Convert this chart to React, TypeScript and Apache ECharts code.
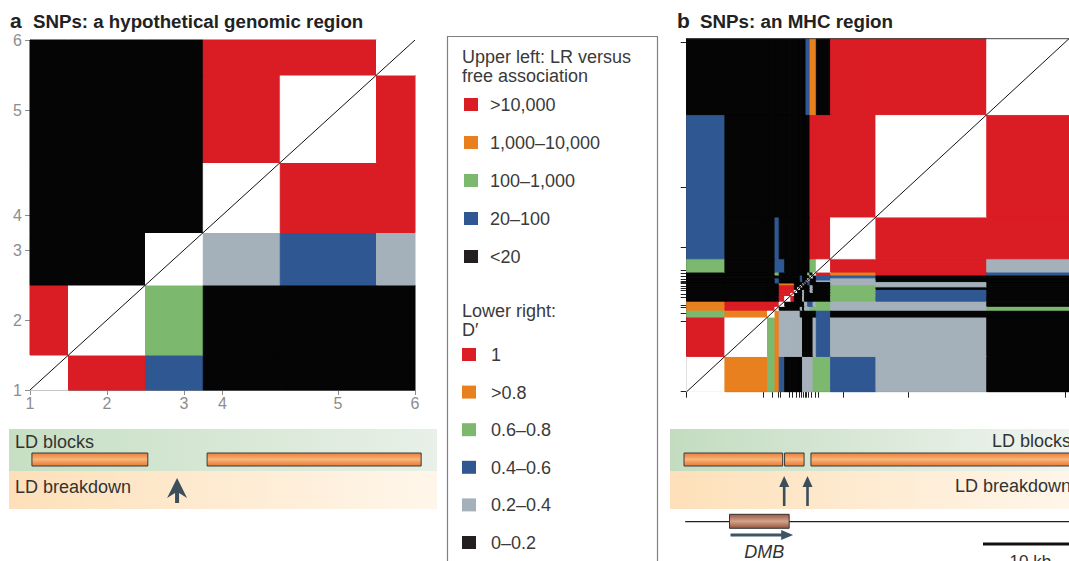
import React, { useEffect, useRef } from 'react';
import * as echarts from 'echarts';

const FONT = '"Liberation Sans", Arial, Helvetica, sans-serif';

const PALETTE: Record<string, string> = {
  R: '#da1c24',
  O: '#e8801f',
  G: '#7cb86e',
  B: '#2f5893',
  S: '#a5b1ba',
  K: '#050505',
  W: '#ffffff',
};

// ---------- Panel a: hypothetical region ----------
const snpLabelsA = ['1', '2', '3', '4', '5', '6'];
const snpPosA = [0, 20, 40, 50, 80, 100];
// rows from SNP 1 (bottom) to SNP 6 (top); columns SNP 1..6
const matrixA = ['WRBKKK', 'RWGKKK', 'KKWSBS', 'KKKWRR', 'KKKRWR', 'KKKRRW'];
const ldBlocksA = [
  [0.5, 30.6],
  [46, 101.6],
];
const breakdownA = [38.2];

// ---------- Panel b: MHC region ----------
const snpPosB = [0, 20, 22.3, 23.9, 24.5, 26.8, 27.7, 28.6, 29.4, 30.0, 30.6, 31.0, 31.4, 31.9, 32.6, 33.5, 34.3, 41, 58, 99];
// rows from first SNP (bottom) to last (top)
const matrixB = [
  'WOGOBKKKKKSSSSSGGBSK',
  'RWGOSSSSSSKKKKKSBSSK',
  'GOWOSSSSSKKKKKKKBKKK',
  'ORRWKKKKKSKSSSGGGSSG',
  'ORRRWKKKKKKSSBBSGSSK',
  'KKKKRWRKKKSKKKKKKGBK',
  'KKKKRRWKKKSKKKKKKGBK',
  'KKKKRRRWKKSKKKSKKGBK',
  'KKKKRRRKWKKKKKSKKGKK',
  'KKKKRRRKKWKKKKSKKGSK',
  'KKKKOOOKKKWKKBKKKSSK',
  'KKKBKKKKKKKWKBKKKSSK',
  'KKKBKKKKKBKKWBKKSSKK',
  'KKKBKKKKKBKKKWKKBSKK',
  'KKKKKKKKKBKKKKWKBBKK',
  'KKKGKKKKKKKKKGKWRORB',
  'GKKBBKKKKKKKKKGGWRRS',
  'BKKBKKKKKKKKKKRRRWRR',
  'BKKKKKKKKKKKKKRRRRWR',
  'KKKKKKKKKKKKBBOOKRRW',
];
const ldBlocksB = [
  [-0.7, 25.1],
  [25.6, 30.7],
  [32.5, 110],
];
const breakdownB = [25.5, 31.6];
const regionLineB = [[-0.4, 110]];
const geneNames = ['DMB'];
const geneStarts = [11.2];
const geneEnds = [26.8];
const scaleBarB = [[77.5, 102.3]];
const scaleBarLabel = '10 kb';

// ---------- Legend ----------
const lrLegendTitle = ['Upper left: LR versus', 'free association'];
const lrLegendLabels = ['>10,000', '1,000–10,000', '100–1,000', '20–100', '<20'];
const lrLegendColors = ['#db1e26', '#e8801f', '#7cb86e', '#2f5893', '#231f20'];
const dLegendTitle = ['Lower right:', 'D′'];
const dLegendLabels = ['1', '>0.8', '0.6–0.8', '0.4–0.6', '0.2–0.4', '0–0.2'];
const dLegendColors = ['#db1e26', '#e8801f', '#7cb86e', '#2f5893', '#a5b1ba', '#231f20'];

function cellData(pos: number[], matrix: string[], min: number, max: number) {
  const b = [min];
  for (let i = 0; i < pos.length - 1; i++) b.push((pos[i] + pos[i + 1]) / 2);
  b.push(max);
  const out: any[] = [];
  matrix.forEach((row, r) => {
    for (let c = 0; c < row.length; c++) {
      out.push({ value: [b[c], b[c + 1], b[r], b[r + 1]], itemStyle: { color: PALETTE[row[c]] } });
    }
  });
  return out;
}

const renderCell = (_p: any, api: any) => {
  const p0 = api.coord([api.value(0), api.value(3)]);
  const p1 = api.coord([api.value(1), api.value(2)]);
  const color = api.visual('color');
  return {
    type: 'rect',
    shape: { x: p0[0], y: p0[1], width: p1[0] - p0[0], height: p1[1] - p0[1] },
    style: { fill: color, stroke: color, lineWidth: 1 },
  };
};

const barGradient = () =>
  new echarts.graphic.LinearGradient(0, 0, 0, 1, [
    { offset: 0, color: '#e97f35' },
    { offset: 0.5, color: '#f8b47c' },
    { offset: 1, color: '#e67a30' },
  ]);

const renderBlock = (_p: any, api: any) => {
  const p0 = api.coord([api.value(0), 24]);
  const p1 = api.coord([api.value(1), 37]);
  return {
    type: 'rect',
    shape: { x: p0[0], y: p0[1], width: p1[0] - p0[0], height: p1[1] - p0[1] },
    style: { fill: barGradient(), stroke: '#3a3a3a', lineWidth: 1 },
  };
};

function labelFor(pos: number[], labels: string[]) {
  return (v: number) => {
    const i = pos.findIndex((p) => Math.abs(p - v) < 1e-6);
    return i >= 0 ? labels[i] : '';
  };
}

function buildOption(): any {
  const gray = '#8d8d8d';

  const graphic: any[] = [];
  // titles
  graphic.push({ type: 'text', x: 10, y: 20, style: { text: 'a', font: `bold 21px ${FONT}`, fill: '#222', textVerticalAlign: 'middle' } });
  graphic.push({ type: 'text', x: 33, y: 21, style: { text: 'SNPs: a hypothetical genomic region', font: `bold 18.7px ${FONT}`, fill: '#222', textVerticalAlign: 'middle' } });
  graphic.push({ type: 'text', x: 677, y: 20, style: { text: 'b', font: `bold 21px ${FONT}`, fill: '#222', textVerticalAlign: 'middle' } });
  graphic.push({ type: 'text', x: 700, y: 21, style: { text: 'SNPs: an MHC region', font: `bold 18.8px ${FONT}`, fill: '#222', textVerticalAlign: 'middle' } });

  // legend box
  graphic.push({ type: 'rect', shape: { x: 447.5, y: 36.5, width: 210, height: 560 }, style: { fill: '#fff', stroke: '#808080', lineWidth: 1.2 } });
  lrLegendTitle.forEach((t, i) => {
    graphic.push({ type: 'text', x: 462, y: 57 + i * 19, style: { text: t, font: `18px ${FONT}`, fill: '#3a3a3a', textVerticalAlign: 'middle' } });
  });
  lrLegendLabels.forEach((t, i) => {
    const cy = 105 + i * 38;
    graphic.push({ type: 'rect', shape: { x: 464, y: cy - 7, width: 14, height: 13 }, style: { fill: lrLegendColors[i] } });
    graphic.push({ type: 'text', x: 490, y: cy, style: { text: t, font: `18px ${FONT}`, fill: '#3a3a3a', textVerticalAlign: 'middle' } });
  });
  dLegendTitle.forEach((t, i) => {
    graphic.push({ type: 'text', x: 462, y: 311 + i * 19, style: { text: t, font: `18px ${FONT}`, fill: '#3a3a3a', textVerticalAlign: 'middle' } });
  });
  dLegendLabels.forEach((t, i) => {
    const cy = 355 + i * 37.6;
    graphic.push({ type: 'rect', shape: { x: 462, y: cy - 7, width: 14, height: 13 }, style: { fill: dLegendColors[i] } });
    graphic.push({ type: 'text', x: 491, y: cy, style: { text: t, font: `18px ${FONT}`, fill: '#3a3a3a', textVerticalAlign: 'middle' } });
  });

  // LD bands
  const bandA = { x: 9, w: 428 };
  const bandB = { x: 670, w: 405 };
  [bandA, bandB].forEach((bd, k) => {
    graphic.push({
      type: 'rect',
      z: -1,
      shape: { x: bd.x, y: 429, width: bd.w, height: 42 },
      style: {
        fill: new echarts.graphic.LinearGradient(0, 0, 1, 0, [
          { offset: 0, color: k === 0 ? '#c6dfc3' : '#c3dcc0' },
          { offset: 1, color: k === 0 ? '#e8f0e7' : '#f1f5f0' },
        ]),
      },
    });
    graphic.push({
      type: 'rect',
      z: -1,
      shape: { x: bd.x, y: 471, width: bd.w, height: 38 },
      style: {
        fill: new echarts.graphic.LinearGradient(0, 0, 1, 0, [
          { offset: 0, color: '#fde0b9' },
          { offset: 1, color: '#fff6ea' },
        ]),
      },
    });
  });
  graphic.push({ type: 'text', x: 15, y: 442, style: { text: 'LD blocks', font: `18px ${FONT}`, fill: '#333', textVerticalAlign: 'middle' } });
  graphic.push({ type: 'text', x: 15, y: 487, style: { text: 'LD breakdown', font: `18px ${FONT}`, fill: '#333', textVerticalAlign: 'middle' } });
  graphic.push({ type: 'text', x: 992, y: 441, style: { text: 'LD blocks', font: `18px ${FONT}`, fill: '#333', textVerticalAlign: 'middle' } });
  graphic.push({ type: 'text', x: 955, y: 486, style: { text: 'LD breakdown', font: `18px ${FONT}`, fill: '#333', textVerticalAlign: 'middle' } });

  // panel b top border
  graphic.push({ type: 'line', z: 100, shape: { x1: 686.7, y1: 38.7, x2: 1075, y2: 38.7 }, style: { stroke: '#444', lineWidth: 1 } });

  const axisA = (grid: number) => ({
    gridIndex: grid,
    type: 'value',
    min: 0,
    max: 100,
    splitLine: { show: false },
    axisLine: { show: true, lineStyle: { color: gray, width: 1 } },
    axisTick: { show: true, customValues: snpPosA, length: 5, lineStyle: { color: gray } },
    axisLabel: { show: true, customValues: snpPosA, formatter: labelFor(snpPosA, snpLabelsA), color: gray, fontSize: 16, fontFamily: FONT },
  });
  const axisB = (grid: number) => ({
    gridIndex: grid,
    type: 'value',
    min: 0,
    max: 100,
    splitLine: { show: false },
    axisLine: { show: true, lineStyle: { color: '#222', width: 1 } },
    axisTick: { show: true, customValues: snpPosB, length: 6, lineStyle: { color: '#222' } },
    axisLabel: { show: false },
  });
  const hidden = (grid: number, max: number, inverse = false) => ({ gridIndex: grid, type: 'value', min: 0, max, inverse, show: false });

  const xA: any = axisA(0);
  xA.axisLabel.margin = 5;
  const yA: any = axisA(0);
  yA.axisLabel.margin = 8;

  const arrowColor = '#3b4e5a';

  return {
    animation: false,
    backgroundColor: '#fff',
    textStyle: { fontFamily: FONT },
    grid: [
      { left: 30, top: 40, width: 385, height: 350 },
      { left: 686.7, top: 38.7, width: 388, height: 353 },
      { left: 30, top: 429, width: 385, height: 80 },
      { left: 686.7, top: 429, width: 388, height: 132 },
    ],
    xAxis: [xA, axisB(1), hidden(2, 100), hidden(3, 100)],
    yAxis: [yA, axisB(1), hidden(2, 80, true), hidden(3, 132, true)],
    graphic,
    series: [
      {
        type: 'custom',
        xAxisIndex: 0,
        yAxisIndex: 0,
        encode: { x: [0, 1], y: [2, 3] },
        data: cellData(snpPosA, matrixA, 0, 100),
        renderItem: renderCell,
        silent: true,
      },
      {
        type: 'line',
        xAxisIndex: 0,
        yAxisIndex: 0,
        data: [
          [0, 0],
          [100, 100],
        ],
        symbol: 'none',
        lineStyle: { color: '#111', width: 1 },
        silent: true,
        z: 5,
      },
      {
        type: 'custom',
        xAxisIndex: 1,
        yAxisIndex: 1,
        encode: { x: [0, 1], y: [2, 3] },
        data: cellData(snpPosB, matrixB, 0, 100),
        renderItem: renderCell,
        silent: true,
      },
      {
        type: 'line',
        xAxisIndex: 1,
        yAxisIndex: 1,
        data: [
          [0, 0],
          [100, 100],
        ],
        symbol: 'none',
        lineStyle: { color: '#111', width: 1 },
        silent: true,
        z: 5,
      },
      // LD blocks panel a
      { type: 'custom', xAxisIndex: 2, yAxisIndex: 2, data: ldBlocksA, renderItem: renderBlock, silent: true },
      {
        type: 'custom',
        xAxisIndex: 2,
        yAxisIndex: 2,
        data: breakdownA.map((v) => [v]),
        silent: true,
        renderItem: (_p: any, api: any) => {
          const t = api.coord([api.value(0), 49]);
          const x = t[0];
          const y = t[1];
          return {
            type: 'polygon',
            shape: {
              points: [
                [x, y],
                [x + 10, y + 20],
                [x + 2, y + 15],
                [x + 2, y + 25],
                [x - 2, y + 25],
                [x - 2, y + 15],
                [x - 10, y + 20],
              ],
            },
            style: { fill: arrowColor },
          };
        },
      },
      // region line panel b
      {
        type: 'custom',
        xAxisIndex: 3,
        yAxisIndex: 3,
        data: regionLineB,
        silent: true,
        renderItem: (_p: any, api: any) => {
          const a = api.coord([api.value(0), 92.7]);
          const b = api.coord([api.value(1), 92.7]);
          return { type: 'line', shape: { x1: a[0], y1: a[1], x2: b[0], y2: b[1] }, style: { stroke: '#222', lineWidth: 1.3 } };
        },
      },
      { type: 'custom', xAxisIndex: 3, yAxisIndex: 3, data: ldBlocksB, renderItem: renderBlock, silent: true },
      {
        type: 'custom',
        xAxisIndex: 3,
        yAxisIndex: 3,
        data: breakdownB.map((v) => [v]),
        silent: true,
        renderItem: (_p: any, api: any) => {
          const t = api.coord([api.value(0), 47]);
          const x = t[0];
          const y = t[1];
          return {
            type: 'group',
            children: [
              { type: 'line', shape: { x1: x, y1: y + 8, x2: x, y2: y + 30 }, style: { stroke: arrowColor, lineWidth: 2.6 } },
              { type: 'polygon', shape: { points: [[x, y], [x + 5, y + 11], [x - 5, y + 11]] }, style: { fill: arrowColor } },
            ],
          };
        },
      },
      // gene box
      {
        type: 'custom',
        xAxisIndex: 3,
        yAxisIndex: 3,
        data: geneStarts.map((s, i) => [s, geneEnds[i]]),
        silent: true,
        renderItem: (p: any, api: any) => {
          const a = api.coord([api.value(0), 85.3]);
          const b = api.coord([api.value(1), 99.3]);
          const ar = api.coord([api.value(0), 106]);
          const ae = api.coord([api.value(1), 106]);
          const x0 = ar[0] + 1;
          const x1 = ae[0] + 4;
          const y = ar[1];
          const mid = (a[0] + b[0]) / 2 + 5;
          const ty = api.coord([api.value(0), 122.7])[1];
          return {
            type: 'group',
            children: [
              {
                type: 'rect',
                shape: { x: a[0], y: a[1], width: b[0] - a[0], height: b[1] - a[1] },
                style: {
                  fill: new echarts.graphic.LinearGradient(0, 0, 0, 1, [
                    { offset: 0, color: '#9a5a42' },
                    { offset: 0.5, color: '#d2a38c' },
                    { offset: 1, color: '#96563e' },
                  ]),
                  stroke: '#333',
                  lineWidth: 1,
                },
              },
              { type: 'line', shape: { x1: x0, y1: y, x2: x1 - 8, y2: y }, style: { stroke: '#3d5663', lineWidth: 3 } },
              { type: 'polygon', shape: { points: [[x1, y], [x1 - 12, y - 5], [x1 - 12, y + 5]] }, style: { fill: '#3d5663' } },
              {
                type: 'text',
                x: mid,
                y: ty,
                style: { text: geneNames[p.dataIndex], font: `italic 18px ${FONT}`, fill: '#333', textAlign: 'center', textVerticalAlign: 'middle' },
              },
            ],
          };
        },
      },
      // scale bar
      {
        type: 'custom',
        xAxisIndex: 3,
        yAxisIndex: 3,
        data: scaleBarB,
        silent: true,
        renderItem: (_p: any, api: any) => {
          const a = api.coord([api.value(0), 115]);
          const b = api.coord([api.value(1), 115]);
          return {
            type: 'group',
            children: [
              { type: 'line', shape: { x1: a[0], y1: a[1], x2: b[0], y2: b[1] }, style: { stroke: '#111', lineWidth: 3 } },
              {
                type: 'text',
                x: (a[0] + b[0]) / 2,
                y: a[1] + 9,
                style: { text: scaleBarLabel, font: `17px ${FONT}`, fill: '#333', textAlign: 'center', textVerticalAlign: 'top' },
              },
            ],
          };
        },
      },
    ],
  };
}

export default function App() {
  const ref = useRef<HTMLDivElement>(null);
  useEffect(() => {
    if (!ref.current) return;
    const chart = echarts.init(ref.current, null, { renderer: 'svg' });
    chart.setOption(buildOption());
    return () => chart.dispose();
  }, []);
  return <div ref={ref} style={{ position: 'absolute', left: 0, top: 0, width: 1069, height: 561, background: '#fff' }} />;
}
